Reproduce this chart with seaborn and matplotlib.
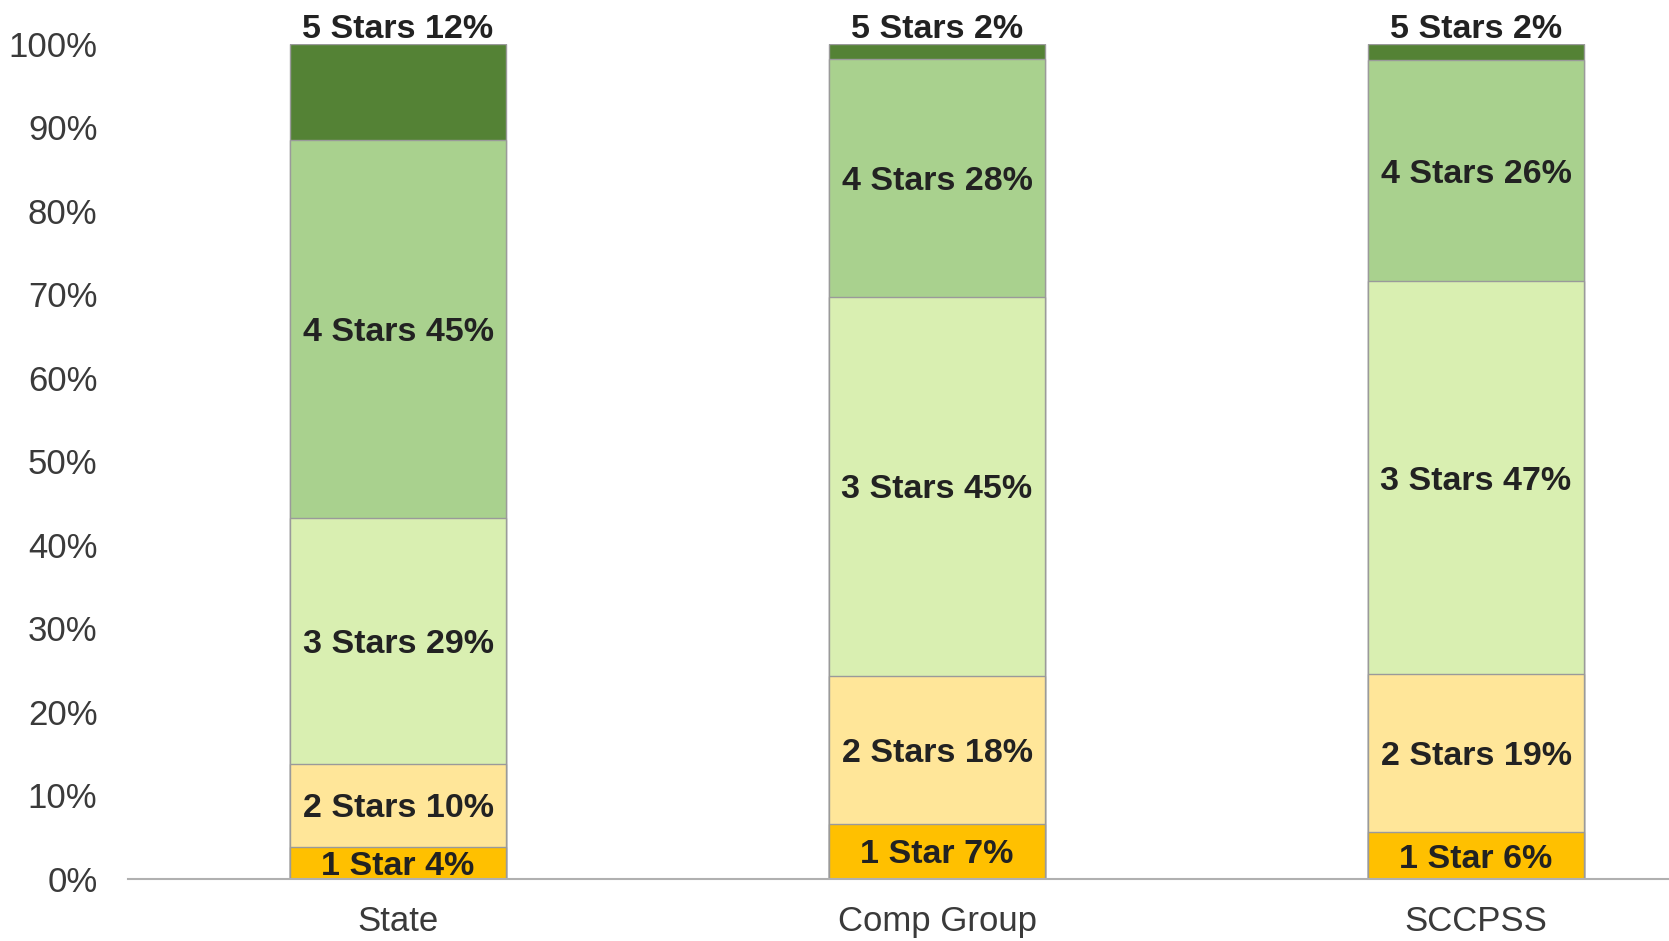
import numpy as np
import pandas as pd
import matplotlib
matplotlib.use("Agg")
import matplotlib.pyplot as plt
import seaborn as sns

categories = ["State", "Comp Group", "SCCPSS"]
series_names = ["1 Star", "2 Stars", "3 Stars", "4 Stars", "5 Stars"]
one_star = [3.8, 6.6, 5.6]
two_stars = [10.0, 17.7, 18.9]
three_stars = [29.4, 45.4, 47.1]
four_stars = [45.2, 28.4, 26.4]
five_stars = [11.6, 1.9, 2.0]
yticks = list(range(0, 101, 10))
colors = ["#FFC000", "#FFE699", "#D9EFB1", "#A9D18E", "#548235"]

sns.set_theme(style="white")
plt.rcParams["font.family"] = ["Liberation Sans", "DejaVu Sans"]

series = [one_star, two_stars, three_stars, four_stars, five_stars]
cum = np.cumsum(np.array(series), axis=0)

fig = plt.figure(figsize=(16.69, 9.41), dpi=100)
ax = fig.add_axes([0.0767, 0.0659, 0.9233, 0.8878])

# draw cumulative totals from top down so lower segments overlay
for i in reversed(range(len(series))):
    df = pd.DataFrame({"cat": categories, "val": cum[i]})
    sns.barplot(data=df, x="cat", y="val", order=categories, color=colors[i],
                width=0.4, edgecolor="#9a9a9a", linewidth=1.0, saturation=1,
                ax=ax, zorder=2)

ax.set_xlim(-0.501, 2.358)
ax.set_ylim(0, 100)
ax.set_yticks(yticks)
ax.set_yticklabels([f"{t}%" for t in yticks])
ax.set_xlabel("")
ax.set_ylabel("")
for s in ["top", "right", "left"]:
    ax.spines[s].set_visible(False)
ax.spines["bottom"].set_color("#b0b0b0")
ax.spines["bottom"].set_linewidth(1.5)
ax.tick_params(axis="y", length=0, pad=22, labelsize=25, labelcolor="#3a3a3a")
ax.tick_params(axis="x", length=0, pad=19, labelsize=25, labelcolor="#3a3a3a")
ax.grid(False)

for j, cat in enumerate(categories):
    for i, name in enumerate(series_names):
        v = series[i][j]
        label = f"{name} {round(v):.0f}%"
        if i == len(series) - 1:
            ax.text(j, cum[i][j] - 0.2, label, ha="center", va="bottom",
                    fontsize=24.5, fontweight="bold", color="#222222",
                    clip_on=False)
        else:
            mid = cum[i][j] - v / 2
            ax.text(j, mid, label, ha="center", va="center_baseline",
                    fontsize=24.5, fontweight="bold", color="#222222")

fig.savefig("out.png", dpi=100)
